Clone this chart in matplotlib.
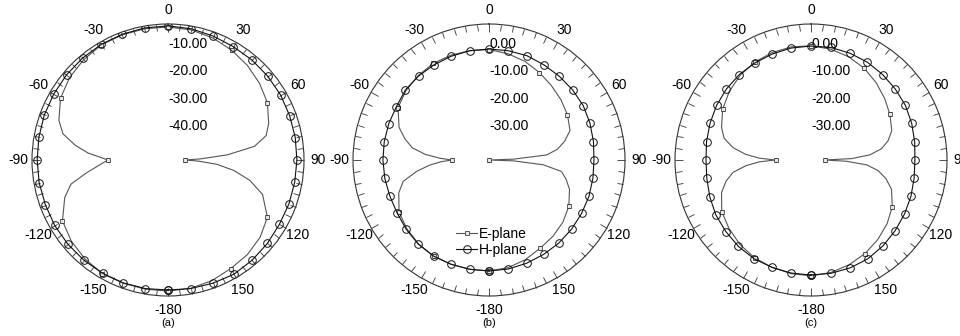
"""Radiation patterns (E-plane / H-plane) for three antenna cases, polar dB plots."""
import numpy as np
import matplotlib.pyplot as plt

plt.rcParams["font.family"] = ["Liberation Sans", "DejaVu Sans"]

# angles in degrees, 0 at top, positive clockwise
E_ANG = [-180, -170, -160, -150, -140, -130, -120, -110, -104, -99, -95, -92, -90,
         -88, -85, -81, -76, -70, -60, -50, -40, -30, -20, -10, 0, 10, 20, 30, 40,
         50, 60, 70, 76, 81, 85, 88, 90, 92, 95, 99, 104, 110, 120, 130, 140, 150,
         160, 170, 180]
H_ANG = list(range(-180, 181, 10))

# (a) normalised gain, dB
E_A = [-1.8, -1.8, -1.8, -1.8, -2.5, -3.6, -5.2, -9.6, -13.2, -19.6, -24.0, -26.5, -27.8,
       -25.5, -20.5, -15.5, -10.2, -7.3, -4.4, -2.8, -1.8, -1.1, -1.0, -1.0, -1.1, -1.4,
       -2.2, -3.3, -4.6, -6.1, -7.8, -10.6, -12.8, -17.8, -28.0, -38.0, -43.7, -39.0,
       -32.0, -25.5, -19.0, -13.0, -7.8, -5.8, -4.6, -3.9, -2.8, -2.1, -1.8]
H_A = [-2.2, -2.0, -1.9, -1.9, -1.9, -1.9, -1.9, -2.0, -1.9, -1.9, -1.8, -1.6, -1.5,
       -1.3, -1.1, -0.9, -0.8, -0.7, -0.7, -1.0, -1.5, -1.9, -2.0, -2.1, -2.2, -2.4,
       -2.5, -2.6, -2.7, -2.7, -2.7, -2.3, -1.9, -1.5, -1.8, -2.0, -2.2]

# (b)
E_B = [0.8, 0.8, 0.8, 0.8, 0.3, -0.6, -1.8, -4.7, -7.5, -13.0, -18.0, -22.5, -26.4,
       -22.0, -16.5, -11.5, -8.2, -4.8, -1.4, -0.2, 0.5, 1.0, 1.0, 0.8, 0.6, -0.3,
       -1.4, -2.9, -4.3, -5.5, -6.7, -8.3, -11.3, -14.5, -18.7, -31.0, -40.0, -31.0,
       -20.0, -13.0, -10.8, -8.5, -6.1, -4.5, -3.4, -2.5, -1.0, 0.2, 0.8]
H_B = [0.8, 0.8, 0.8, 0.8, 0.4, -0.3, -1.0, -1.2, -1.1, -1.0, -0.9, -0.8, -0.7,
       0.1, 0.3, 0.4, 0.6, 0.8, 0.8, 0.8, 0.8, 0.4, 0.2, 0.1, 0.0, -0.5,
       -1.0, -1.4, -1.2, -0.9, -0.7, -0.4, -0.1, 0.1, 0.4, 0.7, 0.8]

# (c)
E_C = [2.6, 2.4, 2.0, 1.5, 0.6, -0.7, -2.1, -5.0, -7.8, -11.0, -16.0, -21.0, -27.0,
       -21.0, -15.8, -11.0, -7.1, -5.0, -2.5, -0.8, 0.6, 1.5, 2.0, 2.2, 2.0, 1.4,
       0.4, -1.0, -2.8, -4.7, -6.5, -8.4, -10.8, -13.8, -18.3, -25.0, -35.0, -27.0,
       -19.4, -15.0, -11.6, -8.5, -5.5, -3.5, -1.8, -0.3, 1.0, 2.0, 2.6]
H_C = [2.3, 2.2, 2.0, 1.9, 1.5, 0.9, 0.4, -0.4, -1.1, -1.4, -1.0, -0.5, 0.1,
       0.6, 1.0, 1.2, 1.5, 1.8, 1.9, 2.0, 1.8, 1.5, 1.0, 0.5, 0.1, -0.6,
       -1.3, -1.8, -1.5, -0.9, -0.3, 0.4, 1.2, 1.9, 2.2, 2.3, 2.3]

PANELS = ["(a)", "(b)", "(c)"]
R_LIMS = [(-50, 0), (-40, 10), (-40, 10)]
R_TICKS = [[-10, -20, -30, -40], [0, -10, -20, -30], [0, -10, -20, -30]]

THETA_TICKS = [0, 30, 60, 90, 120, 150, 180, 210, 240, 270, 300, 330]
THETA_LABELS = ["0", "30", "60", "90", "120", "150", "-180", "-150", "-120",
                "-90", "-60", "-30"]


def draw(ax, e_val, h_val, rlim, rticks, legend=False):
    ax.set_theta_zero_location("N")
    ax.set_theta_direction(-1)
    ax.set_ylim(*rlim)

    e_th = np.deg2rad(E_ANG)
    h_th = np.deg2rad(H_ANG)
    e_marks = [a % 30 == 0 for a in E_ANG]

    ax.plot(e_th, e_val, color="#555555", linewidth=0.8, marker="s",
            markersize=3.2, markerfacecolor="#e6e6e6", markeredgecolor="#444444",
            markeredgewidth=0.6, markevery=e_marks, label="E-plane", zorder=3)
    ax.plot(h_th, h_val, color="#111111", linewidth=0.8, marker="o",
            markersize=5.5, markerfacecolor="none", markeredgecolor="#111111",
            markeredgewidth=0.7, label="H-plane", zorder=4)

    ax.set_xticks(np.deg2rad(THETA_TICKS))
    ax.set_xticklabels(THETA_LABELS, fontsize=10)
    ax.set_xticks(np.deg2rad(np.arange(0, 360, 5)), minor=True)
    # theta ticks sit on the outer circle (tick2), pointing inward
    ax.tick_params(axis="x", which="both", top=True, bottom=False,
                   direction="in", width=0.6, color="#333333")
    ax.tick_params(axis="x", which="major", length=6, pad=3)
    ax.tick_params(axis="x", which="minor", length=4.5)
    ax.set_yticks([])
    ax.grid(False)
    ax.spines["polar"].set_linewidth(0.8)
    ax.spines["polar"].set_color("#333333")

    for v in rticks:
        ax.text(0, v, f"{v:.2f}", fontsize=10, ha="left", va="bottom", zorder=2)

    if legend:
        ax.legend(loc="center", bbox_to_anchor=(0.51, 0.2), frameon=False,
                  fontsize=10, handlelength=1.5, handletextpad=0.1,
                  labelspacing=0.15, borderpad=0)


def main():
    fig = plt.figure(figsize=(9.6, 3.36), dpi=100)
    centers = [168, 489, 811]
    rad = 136
    series = [(E_A, H_A), (E_B, H_B), (E_C, H_C)]
    for i, cx in enumerate(centers):
        ax = fig.add_axes([(cx - rad) / 960, (336 - 160 - rad) / 336,
                           2 * rad / 960, 2 * rad / 336], projection="polar")
        draw(ax, series[i][0], series[i][1], R_LIMS[i], R_TICKS[i], legend=(i == 1))
        fig.text(cx / 960, 1 - 323 / 336, PANELS[i], fontsize=8, ha="center",
                 va="center")

    fig.savefig("out.png", dpi=100)


if __name__ == "__main__":
    main()
